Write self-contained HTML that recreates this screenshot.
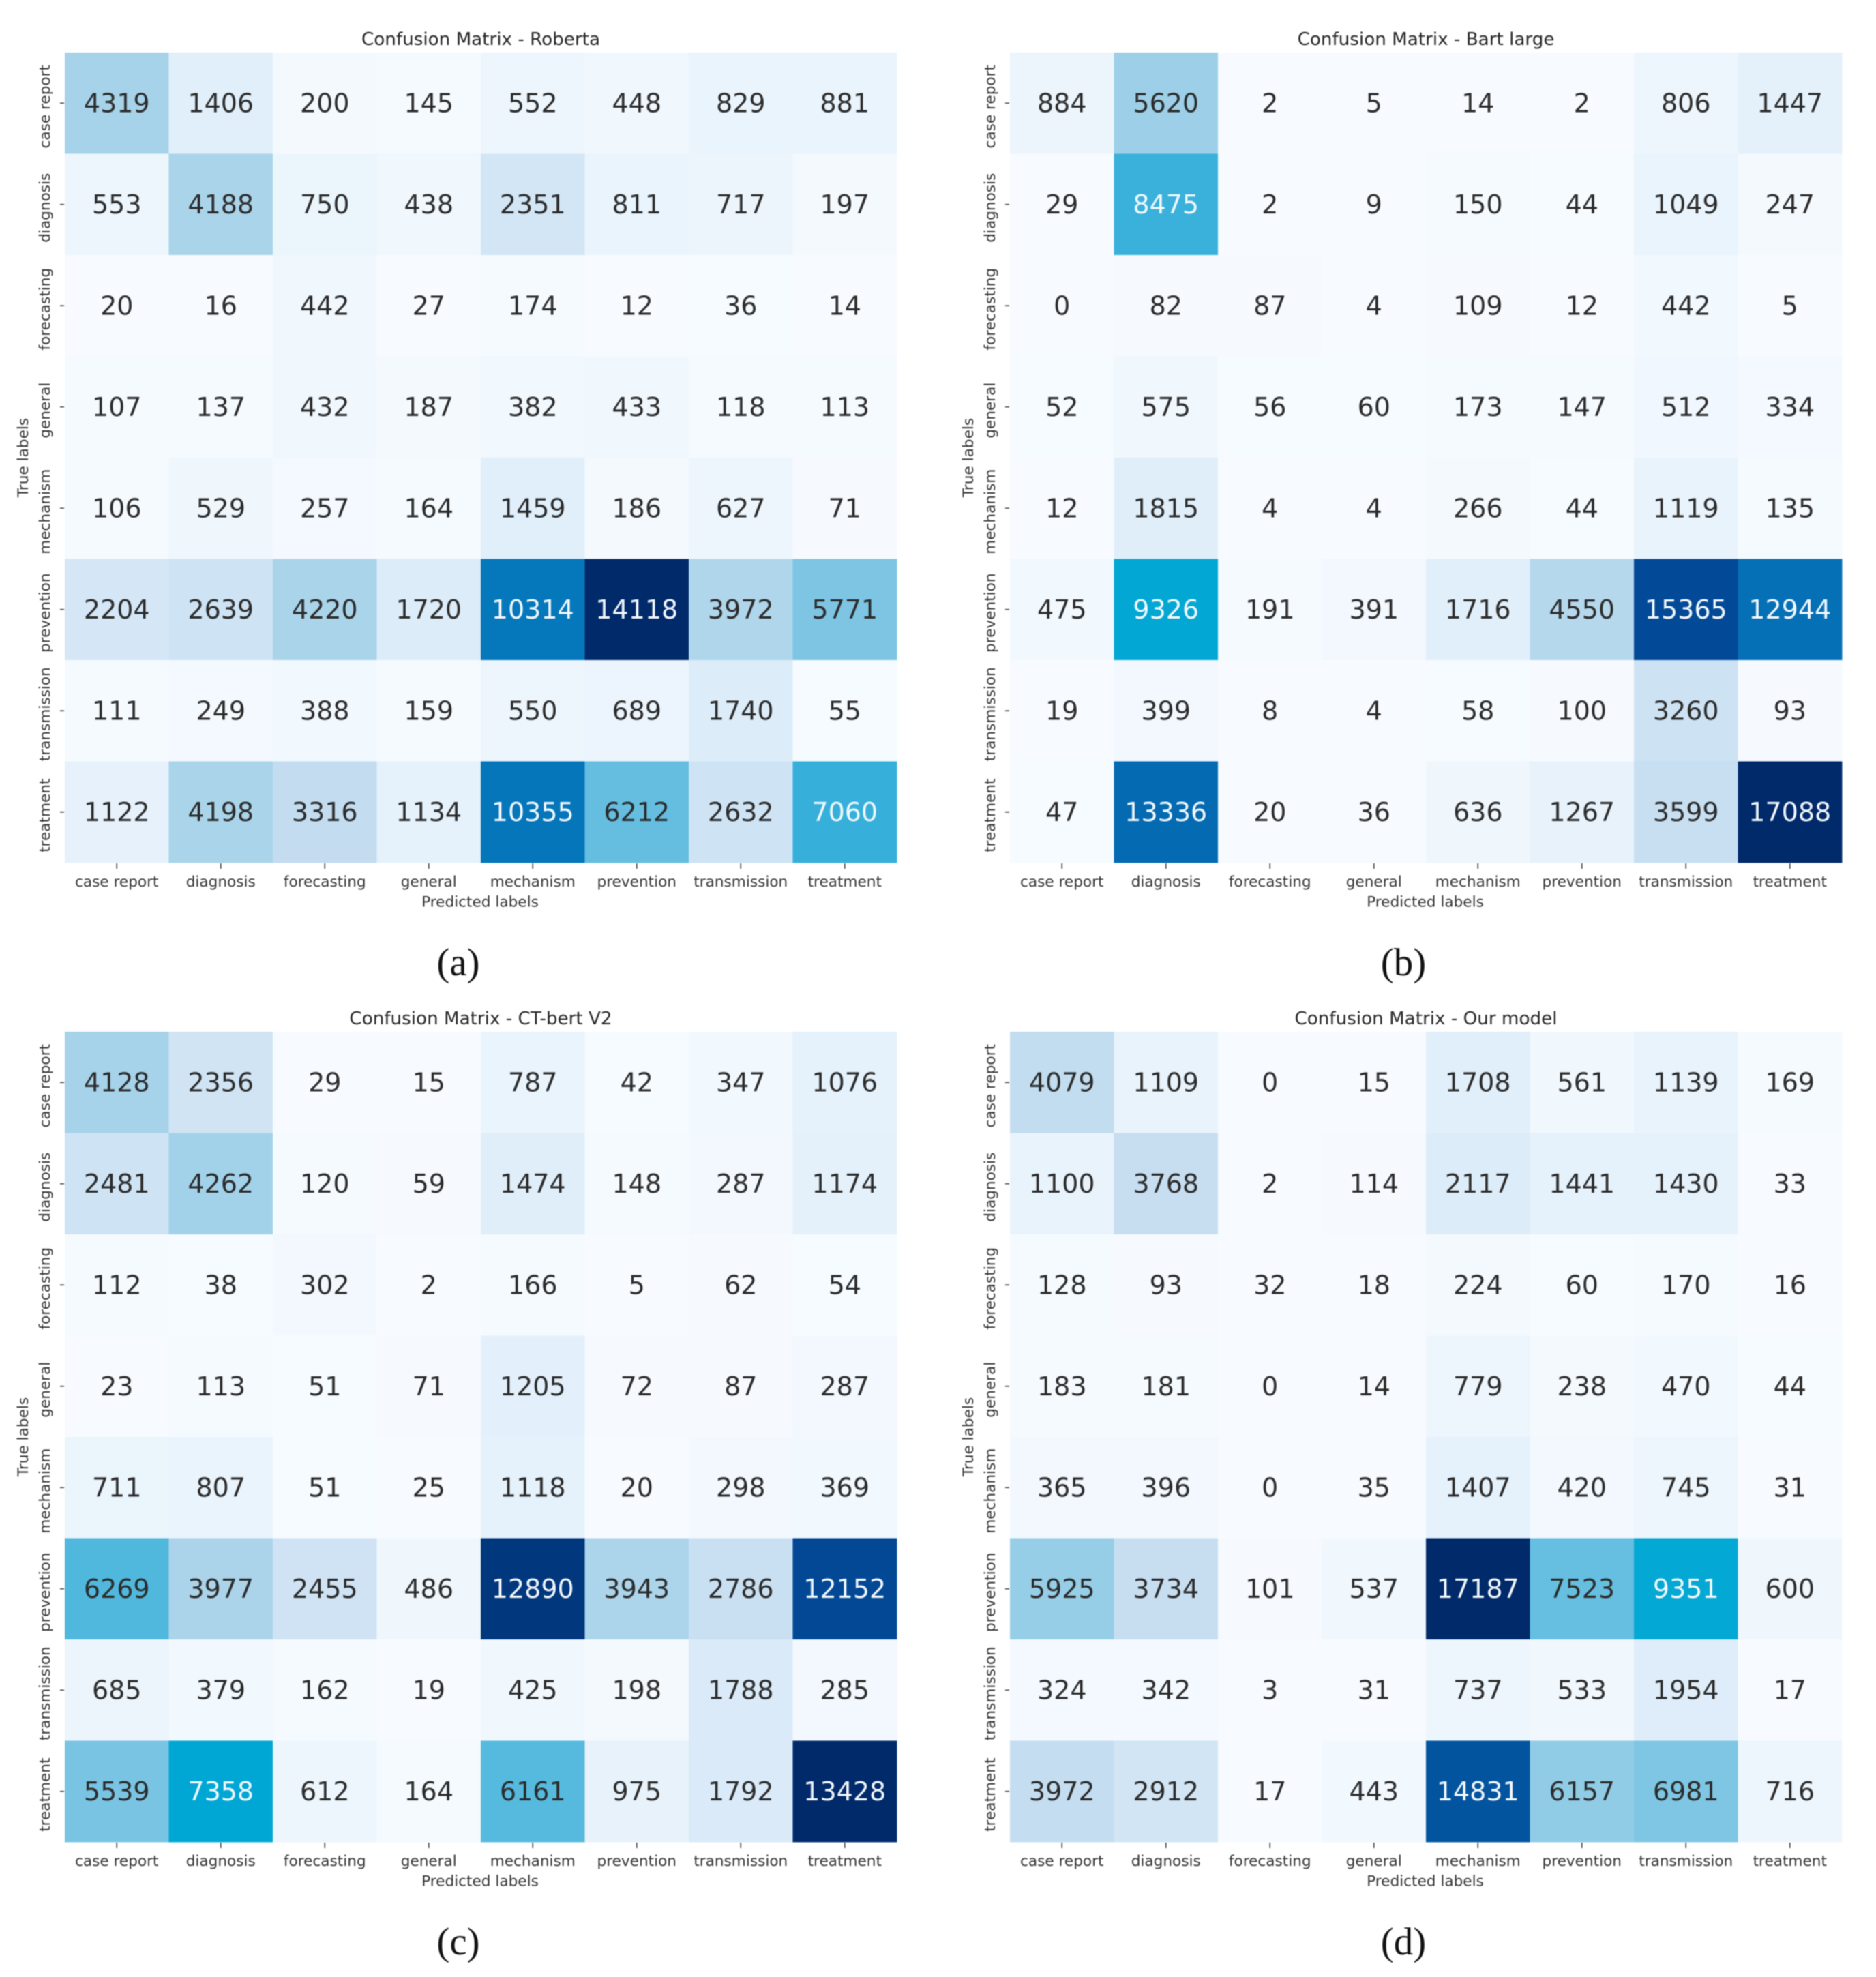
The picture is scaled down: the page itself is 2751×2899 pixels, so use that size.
<!DOCTYPE html>
<html>
<head>
<meta charset="utf-8">
<title>Confusion matrices</title>
<style>
html,body{margin:0;padding:0;background:#fff;width:2751px;height:2899px;overflow:hidden}
svg{display:block;filter:blur(0.8px)}
.num{font-family:"DejaVu Sans",sans-serif;font-size:38px;text-anchor:middle;dominant-baseline:auto}
.tick{font-family:"DejaVu Sans",sans-serif;font-size:21.6px;fill:#333;text-anchor:middle}
.title{font-family:"DejaVu Sans",sans-serif;font-size:26.2px;fill:#262626;text-anchor:middle}
.cap{font-family:"Liberation Serif",serif;font-size:57px;fill:#111;text-anchor:middle}
</style>
</head>
<body>
<svg id="chart" xmlns="http://www.w3.org/2000/svg" width="2751" height="2899" viewBox="0 0 2751 2899"></svg>
<script>
const categories = ["case report","diagnosis","forecasting","general","mechanism","prevention","transmission","treatment"];
const xAxisTitle = "Predicted labels";
const yAxisTitle = "True labels";

const robertaValues = [
  [4319,1406,200,145,552,448,829,881],
  [553,4188,750,438,2351,811,717,197],
  [20,16,442,27,174,12,36,14],
  [107,137,432,187,382,433,118,113],
  [106,529,257,164,1459,186,627,71],
  [2204,2639,4220,1720,10314,14118,3972,5771],
  [111,249,388,159,550,689,1740,55],
  [1122,4198,3316,1134,10355,6212,2632,7060]
];
const bartValues = [
  [884,5620,2,5,14,2,806,1447],
  [29,8475,2,9,150,44,1049,247],
  [0,82,87,4,109,12,442,5],
  [52,575,56,60,173,147,512,334],
  [12,1815,4,4,266,44,1119,135],
  [475,9326,191,391,1716,4550,15365,12944],
  [19,399,8,4,58,100,3260,93],
  [47,13336,20,36,636,1267,3599,17088]
];
const ctBertValues = [
  [4128,2356,29,15,787,42,347,1076],
  [2481,4262,120,59,1474,148,287,1174],
  [112,38,302,2,166,5,62,54],
  [23,113,51,71,1205,72,87,287],
  [711,807,51,25,1118,20,298,369],
  [6269,3977,2455,486,12890,3943,2786,12152],
  [685,379,162,19,425,198,1788,285],
  [5539,7358,612,164,6161,975,1792,13428]
];
const ourModelValues = [
  [4079,1109,0,15,1708,561,1139,169],
  [1100,3768,2,114,2117,1441,1430,33],
  [128,93,32,18,224,60,170,16],
  [183,181,0,14,779,238,470,44],
  [365,396,0,35,1407,420,745,31],
  [5925,3734,101,537,17187,7523,9351,600],
  [324,342,3,31,737,533,1954,17],
  [3972,2912,17,443,14831,6157,6981,716]
];

const NS = "http://www.w3.org/2000/svg";
const svg = document.getElementById("chart");
const PANEL_W = 1220, PANEL_H = 1188;

const colorStops = [
  [0,[247,251,255]],[0.1,[225,239,250]],[0.235,[195,220,240]],[0.3,[169,212,234]],
  [0.41,[124,197,227]],[0.5,[54,176,218]],[0.548,[0,167,212]],[0.75,[5,114,184]],
  [0.9,[2,74,151]],[1,[1,42,107]]
];
function colorFor(t){
  for(let i=1;i<colorStops.length;i++){
    if(t<=colorStops[i][0]){
      const a=colorStops[i-1], b=colorStops[i];
      const f=(t-a[0])/(b[0]-a[0]);
      const c=a[1].map((v,k)=>Math.round(v+(b[1][k]-v)*f));
      return "rgb("+c.join(",")+")";
    }
  }
  return "rgb(1,42,107)";
}
function make(parent,tag,attrs,text){
  const el=document.createElementNS(NS,tag);
  for(const k in attrs) el.setAttribute(k,attrs[k]);
  if(text!==undefined) el.textContent=text;
  parent.appendChild(el);
  return el;
}
function drawPanel(key,titleText,caption,values,left,top){
  const xScale=c=>left+c*PANEL_W/categories.length;
  const yScale=r=>top+r*PANEL_H/categories.length;
  const cw=PANEL_W/categories.length, ch=PANEL_H/categories.length;
  const maxV=Math.max.apply(null,values.map(r=>Math.max.apply(null,r)));
  const g=make(svg,"g",{});
  
  

  const title=make(g,"text",{class:"title",x:left+PANEL_W/2,y:top-11},titleText);
  
  

  values.forEach((row,r)=>{
    row.forEach((v,c)=>{
      const t=v/maxV;
      const rect=make(g,"rect",{x:xScale(c),y:yScale(r),width:cw+0.4,height:ch+0.4,fill:colorFor(t)});
      
      
    });
  });
  values.forEach((row,r)=>{
    row.forEach((v,c)=>{
      const t=v/maxV;
      const label=make(g,"text",{class:"num",x:xScale(c)+cw/2,y:yScale(r)+ch/2+13,fill:t>=0.48?"#f4f8fc":"#2b2b2b"},String(v));
      
      
    });
  });
  categories.forEach((name,i)=>{
    const cx=xScale(i)+cw/2, cy=yScale(i)+ch/2;
    const xt=make(g,"line",{x1:cx,x2:cx,y1:top+PANEL_H+1,y2:top+PANEL_H+9,stroke:"#444","stroke-width":1.6});
    
    
    const xl=make(g,"text",{class:"tick",x:cx,y:top+PANEL_H+35},name);
    
    
    const yt=make(g,"line",{x1:left-7,x2:left-1,y1:cy,y2:cy,stroke:"#444","stroke-width":1.6});
    
    
    const yl=make(g,"text",{class:"tick",transform:"translate("+(left-22)+","+(cy+5)+") rotate(-90)"},name);
    
    
  });
  const xa=make(g,"text",{class:"tick",x:left+PANEL_W/2-1,y:top+PANEL_H+64.5},xAxisTitle);
  
  
  const ya=make(g,"text",{class:"tick",transform:"translate("+(left-54)+","+(top+PANEL_H/2)+") rotate(-90)"},yAxisTitle);
  
  
  const cap=make(g,"text",{class:"cap",x:left+577,y:top+PANEL_H+165},caption);
  
  
}
drawPanel("roberta","Confusion Matrix - Roberta","(a)",robertaValues,95,77);
drawPanel("bart-large","Confusion Matrix - Bart large","(b)",bartValues,1481,77);
drawPanel("ct-bert","Confusion Matrix - CT-bert V2","(c)",ctBertValues,95,1513);
drawPanel("our-model","Confusion Matrix - Our model","(d)",ourModelValues,1481,1513);
</script>
</body>
</html>
